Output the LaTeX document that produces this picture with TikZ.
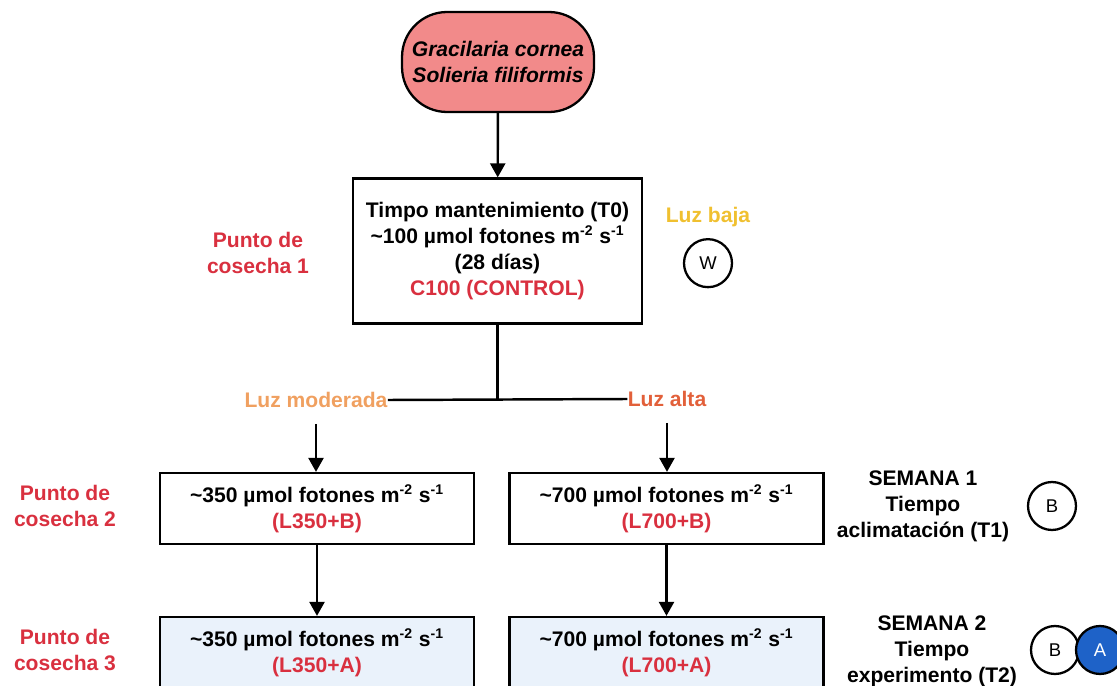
\documentclass[tikz,border=0pt]{standalone}
\usepackage{fontspec}
\setmainfont{Liberation Sans}
\usetikzlibrary{arrows.meta, positioning}

\definecolor{pillred}{HTML}{F28A8A}
\definecolor{harvestred}{HTML}{D9303F}
\definecolor{lowyellow}{HTML}{F0C030}
\definecolor{midorange}{HTML}{F0A060}
\definecolor{highorange}{HTML}{E2603A}
\definecolor{paleblue}{HTML}{EAF2FB}
\definecolor{dotblue}{HTML}{1E62C8}

\begin{document}
\begin{tikzpicture}[
    x=0.02cm, y=-0.02cm,
    font=\fontsize{12pt}{14.8pt}\selectfont\bfseries,
    box/.style={
        draw,
        line width=1.3pt,
        align=center,
        minimum width=6.28cm,
        minimum height=1.42cm
    },
    pill/.style={
        draw,
        line width=1.3pt,
        fill=pillred,
        rounded corners=0.9cm,
        align=center,
        minimum width=3.84cm,
        minimum height=2cm,
        font=\fontsize{12pt}{14.8pt}\selectfont\bfseries\itshape
    },
    harvest/.style={
        text=harvestred,
        align=center
    },
    week/.style={
        align=center
    },
    lightlabel/.style={
        inner xsep=0pt
    },
    dot/.style={
        draw,
        circle,
        line width=1.3pt,
        fill=white,
        minimum size=0.96cm,
        font=\fontsize{10.5pt}{12pt}\selectfont
    },
    arrow/.style={
        -{Triangle[length=2.8mm, width=3mm]},
        line width=1.4pt
    },
    line/.style={
        line width=1.4pt
    }
]

\useasboundingbox (0,0) rectangle (1117,686);
\clip (0,0) rectangle (1117,686);

\node[pill] (species) at (498,62) {Gracilaria cornea\\Solieria filiformis};

\node[box, minimum width=5.78cm, minimum height=2.9cm] (maint) at (497.5,251)
    {Timpo mantenimiento (T0)\\
     \textasciitilde100 µmol fotones m\textsuperscript{-2} s\textsuperscript{-1}\\
     (28 días)\\
     \textcolor{harvestred}{C100 (CONTROL)}};

\node[harvest] (harv1) at (258,253) {Punto de\\cosecha 1};
\node[text=lowyellow] (low) at (708,217) {Luz baja};
\node[dot, below=1mm of low] (w) {W};

\node[lightlabel, text=midorange] (moderate) at (316,400) {Luz moderada};
\node[lightlabel, text=highorange] (high) at (667,399) {Luz alta};

\node[box] (l350b) at (317,508.5)
    {\textasciitilde350 µmol fotones m\textsuperscript{-2} s\textsuperscript{-1}\\
     \textcolor{harvestred}{(L350+B)}};
\node[box] (l700b) at (666.5,508.5)
    {\textasciitilde700 µmol fotones m\textsuperscript{-2} s\textsuperscript{-1}\\
     \textcolor{harvestred}{(L700+B)}};

\node[box, fill=paleblue] (l350a) at (317,652.5)
    {\textasciitilde350 µmol fotones m\textsuperscript{-2} s\textsuperscript{-1}\\
     \textcolor{harvestred}{(L350+A)}};
\node[box, fill=paleblue] (l700a) at (666.5,652.5)
    {\textasciitilde700 µmol fotones m\textsuperscript{-2} s\textsuperscript{-1}\\
     \textcolor{harvestred}{(L700+A)}};

\node[harvest] (harv2) at (65,506) {Punto de\\cosecha 2};
\node[harvest] (harv3) at (65,650) {Punto de\\cosecha 3};

\node[week] (week1) at (923,506) {SEMANA 1\\Tiempo\\aclimatación (T1)};
\node[week] (week2) at (932,651) {SEMANA 2\\Tiempo\\experimento (T2)};

\node[dot] (b1) at (1052,506) {B};
\node[dot] (b2) at (1055,650) {B};
\node[dot, fill=dotblue, text=white] (a2) at (1100,650) {A};

\draw[arrow] (species) -- (maint);

\draw[line] (maint.south) -- (maint.south |- moderate.east);
\draw[line] (moderate.east) -- (high.west);

\draw[arrow, shorten <=2mm] (moderate.south) -- (moderate.south |- l350b.north);
\draw[arrow, shorten <=2mm] (high.south) -- (high.south |- l700b.north);

\draw[arrow] (l350b) -- (l350a);
\draw[arrow] (l700b) -- (l700a);

\end{tikzpicture}
\end{document}
